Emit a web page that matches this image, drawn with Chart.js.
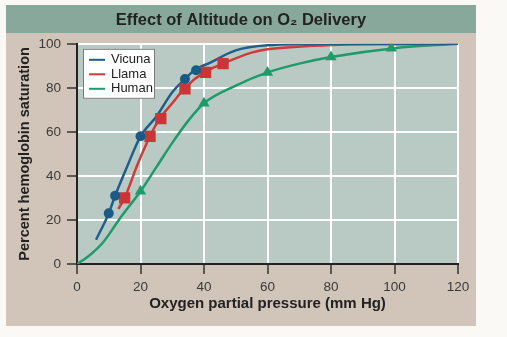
<!DOCTYPE html>
<html>
<head>
<meta charset="utf-8">
<script src="https://cdn.jsdelivr.net/npm/chart.js@4.4.1/dist/chart.umd.min.js"></script>
<style>
  html, body { margin: 0; padding: 0; background: #faf9f6; }
  #wrap { width: 507px; height: 337px; }
</style>
</head>
<body>
<div id="wrap"><canvas id="chart" width="507" height="337"></canvas></div>
<script>
// ===== DATA =====
const seriesNames = ['Vicuna', 'Llama', 'Human'];
const xTicks = [0, 20, 40, 60, 80, 100, 120];
const yTicks = [0, 20, 40, 60, 80, 100];

// fitted curves
const vicunaCurveX = [6, 10, 12, 16, 20, 25, 30, 34, 37, 42, 50, 60, 80, 120];
const vicunaCurveY = [11, 23, 31, 45, 58, 67, 78, 84, 88, 91.5, 97, 99.3, 100, 100];
const llamaCurveX = [13, 15, 19, 23, 26, 30, 34, 40, 46, 55, 60, 80, 100, 120];
const llamaCurveY = [25, 30, 45, 58, 66, 73, 80, 87, 91, 96, 97.5, 99.4, 99.8, 100];
const humanCurveX = [0, 4, 8.3, 13.5, 20, 25, 30, 35, 40, 50, 60, 70, 80, 100, 120];
const humanCurveY = [0, 4, 10, 20.7, 33, 44, 55, 65, 73, 81, 87, 91, 94, 98, 100];

// measured points
const vicunaPtsX = [10, 12, 20, 34, 37.5];
const vicunaPtsY = [23, 31, 58, 84, 88];
const llamaPtsX = [15, 23, 26.4, 34, 40.5, 46];
const llamaPtsY = [30, 58, 66, 79.5, 87, 91];
const humanPtsX = [20, 40, 60, 80, 99];
const humanPtsY = [33, 73, 87, 94, 98];

const lineColors = ['#1f5e8b', '#cf3a3a', '#1e9a6b'];

const toXY = (xs, ys) => xs.map((x, i) => ({ x: x, y: ys[i] }));
const font = '"Liberation Sans", Arial, sans-serif';

// ===== BACKGROUND PANELS =====
const backdrop = {
  id: 'backdrop',
  beforeDraw(chart) {
    const { ctx, chartArea: a } = chart;
    ctx.save();
    ctx.fillStyle = '#faf9f6';
    ctx.fillRect(0, 0, chart.width, chart.height);
    ctx.fillStyle = '#d1c4b8';
    ctx.fillRect(6, 5, 470, 321);
    ctx.fillStyle = '#87a89a';
    ctx.fillRect(6, 5, 470, 28);
    ctx.fillStyle = '#b8cac3';
    ctx.fillRect(a.left, a.top, a.right - a.left, a.bottom - a.top);
    ctx.restore();
  }
};

// ===== LEGEND BOX =====
const boxLegend = {
  id: 'boxLegend',
  afterDraw(chart) {
    const { ctx, chartArea: a } = chart;
    const x = a.left + 6, y = a.top + 5, w = 72, h = 50;
    ctx.save();
    ctx.fillStyle = '#ffffff';
    ctx.fillRect(x, y, w, h);
    ctx.strokeStyle = '#7a7a7a';
    ctx.lineWidth = 1;
    ctx.strokeRect(x + 0.5, y + 0.5, w - 1, h - 1);
    ctx.font = '13px ' + font;
    ctx.textBaseline = 'middle';
    seriesNames.forEach((name, i) => {
      const cy = y + 11 + i * 14.5;
      ctx.strokeStyle = lineColors[i];
      ctx.lineWidth = 2;
      ctx.beginPath();
      ctx.moveTo(x + 6, cy);
      ctx.lineTo(x + 22, cy);
      ctx.stroke();
      ctx.fillStyle = '#222';
      ctx.fillText(name, x + 28, cy);
    });
    ctx.restore();
  }
};

const curve = (label, xs, ys, color) => ({
  label: label,
  data: toXY(xs, ys),
  showLine: true,
  borderColor: color,
  backgroundColor: color,
  borderWidth: 2.5,
  pointRadius: 0,
  cubicInterpolationMode: 'monotone',
  order: 2
});

const marks = (label, xs, ys, color, style, r) => ({
  label: label,
  data: toXY(xs, ys),
  showLine: false,
  pointStyle: style,
  pointRadius: r,
  backgroundColor: color,
  borderColor: color,
  borderWidth: 0,
  order: 1
});

// ===== CHART =====
const ctx = document.getElementById('chart').getContext('2d');
new Chart(ctx, {
  type: 'scatter',
  data: {
    datasets: [
      curve(seriesNames[0], vicunaCurveX, vicunaCurveY, lineColors[0]),
      curve(seriesNames[1], llamaCurveX, llamaCurveY, lineColors[1]),
      curve(seriesNames[2], humanCurveX, humanCurveY, lineColors[2]),
      marks(seriesNames[0] + ' data', vicunaPtsX, vicunaPtsY, '#1a5a86', 'circle', 5),
      marks(seriesNames[1] + ' data', llamaPtsX, llamaPtsY, '#cc3535', 'rect', 8),
      marks(seriesNames[2] + ' data', humanPtsX, humanPtsY, '#1f9b6a', 'triangle', 6.5)
    ]
  },
  options: {
    responsive: false,
    animation: false,
    layout: { padding: { left: 6, right: 31, top: 5, bottom: 20 } },
    scales: {
      x: {
        type: 'linear',
        min: 0, max: 120,
        afterBuildTicks: s => { s.ticks = xTicks.map(v => ({ value: v })); },
        afterFit: s => { s.height = 53; },
        grid: { color: '#ffffff', lineWidth: 2, tickLength: 10, tickColor: '#333', tickWidth: 1.5 },
        border: { color: '#222', width: 2 },
        ticks: { color: '#3a3a3a', font: { family: font, size: 13.5 }, padding: 5, maxRotation: 0 },
        title: {
          display: true,
          text: 'Oxygen partial pressure (mm Hg)',
          color: '#222',
          font: { family: font, size: 15, weight: 'bold' },
          padding: { top: 4, bottom: 4 }
        }
      },
      y: {
        min: 0, max: 100,
        afterBuildTicks: s => { s.ticks = yTicks.map(v => ({ value: v })); },
        afterFit: s => { s.width = 71; },
        grid: { color: '#ffffff', lineWidth: 2, tickLength: 10, tickColor: '#333', tickWidth: 1.5 },
        border: { color: '#222', width: 2 },
        ticks: { color: '#3a3a3a', font: { family: font, size: 13.5 }, padding: 6 },
        title: {
          display: true,
          text: 'Percent hemoglobin saturation',
          color: '#222',
          font: { family: font, size: 14.5, weight: 'bold' },
          padding: { top: 10, bottom: 4 }
        }
      },
      yRight: {
        position: 'right',
        display: true,
        grid: { display: false },
        border: { display: false },
        ticks: { display: false },
        afterFit: s => { s.width = 18; }
      }
    },
    plugins: {
      legend: { display: false },
      tooltip: { enabled: false },
      title: {
        display: true,
        text: 'Effect of Altitude on O\u2082 Delivery',
        color: '#222',
        font: { family: font, size: 16.5, weight: 'bold' },
        padding: { top: 6, bottom: 13 }
      }
    }
  },
  plugins: [backdrop, boxLegend]
});
</script>
</body>
</html>
